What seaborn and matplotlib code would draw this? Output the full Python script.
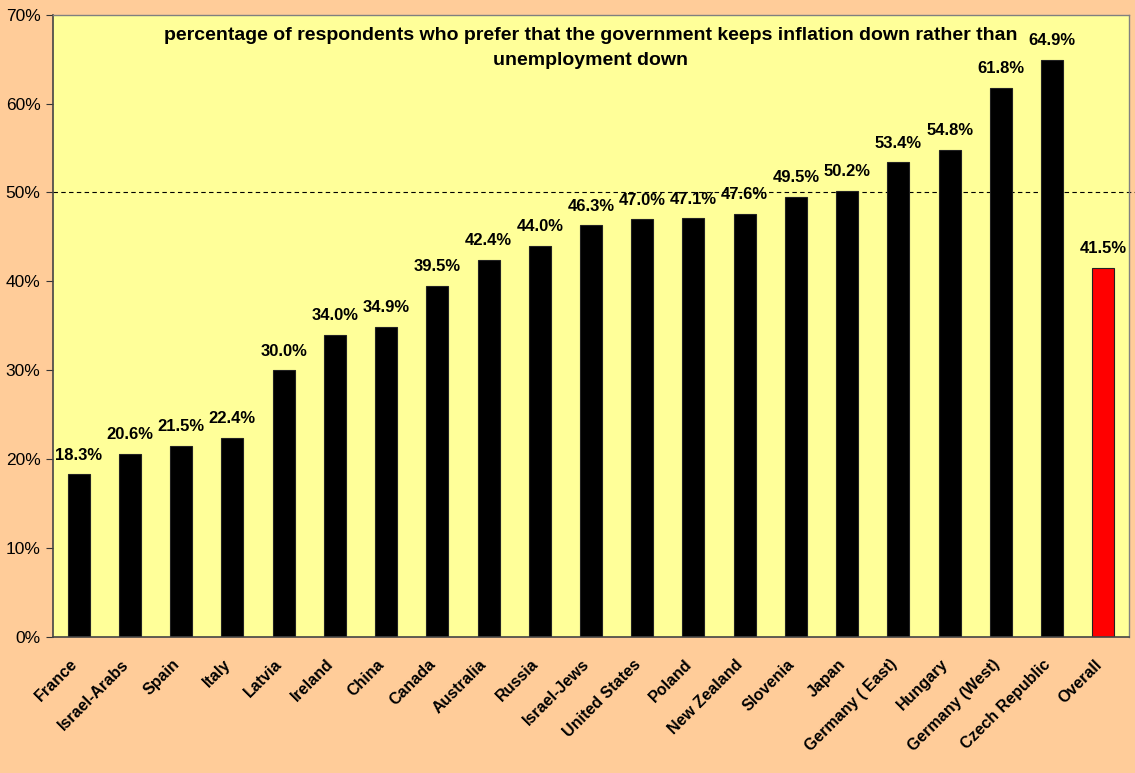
import matplotlib
matplotlib.use("Agg")
import matplotlib.pyplot as plt
import matplotlib.transforms as mtrans
import seaborn as sns
import pandas as pd
from matplotlib.ticker import PercentFormatter

countries = ["France", "Israel-Arabs", "Spain", "Italy", "Latvia", "Ireland", "China",
             "Canada", "Australia", "Russia", "Israel-Jews", "United States", "Poland",
             "New Zealand", "Slovenia", "Japan", "Germany ( East)", "Hungary",
             "Germany (West)", "Czech Republic", "Overall"]
values = [18.3, 20.6, 21.5, 22.4, 30.0, 34.0, 34.9, 39.5, 42.4, 44.0, 46.3, 47.0, 47.1,
          47.6, 49.5, 50.2, 53.4, 54.8, 61.8, 64.9, 41.5]
title_lines = ["percentage of respondents who prefer that the government keeps inflation down rather than",
               "unemployment down"]

df = pd.DataFrame({"country": countries, "value": values})
colors = ["#000000"] * (len(countries) - 1) + ["#FF0000"]

sns.set_style("white")
plt.rcParams['font.family'] = ['Liberation Sans', 'DejaVu Sans']
plt.rcParams['text.color'] = 'black'
plt.rcParams['xtick.color'] = 'black'
plt.rcParams['ytick.color'] = 'black'

fig = plt.figure(figsize=(11.35, 7.73), dpi=100, facecolor="#FFCC99")
ax = fig.add_axes([0.0467, 0.176, 0.948, 0.805])
ax.set_facecolor("#FFFF99")

sns.barplot(data=df, x="country", y="value", hue="country", palette=colors,
            legend=False, width=0.43, ax=ax, edgecolor="#222222", linewidth=0.8,
            saturation=1)

ax.set_ylim(0, 70)
ax.set_xlim(-0.5, len(countries) - 0.5)
ax.set_yticks(range(0, 71, 10))
ax.yaxis.set_major_formatter(PercentFormatter(decimals=0))
ax.tick_params(axis="y", labelsize=12.5, length=5, direction="out", left=True,
               color="#333333", pad=4)
ax.tick_params(axis="x", length=0, pad=18)
ax.set_xticks(range(len(countries)))
ax.set_xticklabels(countries, rotation=45, ha="right", va="center", rotation_mode="anchor",
                   fontsize=11.5, fontweight="bold")
offset = mtrans.ScaledTranslation(-4 / 100, 0, fig.dpi_scale_trans)
for lab in ax.get_xticklabels():
    lab.set_transform(lab.get_transform() + offset)
ax.set_xlabel("")
ax.set_ylabel("")

for i, v in enumerate(values):
    ax.text(i, v + 1.3, f"{v:.1f}%", ha="center", va="bottom", fontsize=12,
            fontweight="bold")

ax.axhline(50, xmin=0, xmax=1.006, color="black", linestyle=(0, (4, 3)), linewidth=0.8,
           clip_on=False, zorder=0.5)

for s in ["left", "bottom"]:
    ax.spines[s].set_color("#444444")
    ax.spines[s].set_linewidth(1.2)
for s in ["top", "right"]:
    ax.spines[s].set_color("#808080")
    ax.spines[s].set_linewidth(1.0)

ax.text(0.5, 0.967, title_lines[0], transform=ax.transAxes, ha="center", va="center",
        fontsize=14, fontweight="bold")
ax.text(0.5, 0.927, title_lines[1], transform=ax.transAxes, ha="center", va="center",
        fontsize=14, fontweight="bold")

fig.savefig("out.png", dpi=100, facecolor=fig.get_facecolor())
